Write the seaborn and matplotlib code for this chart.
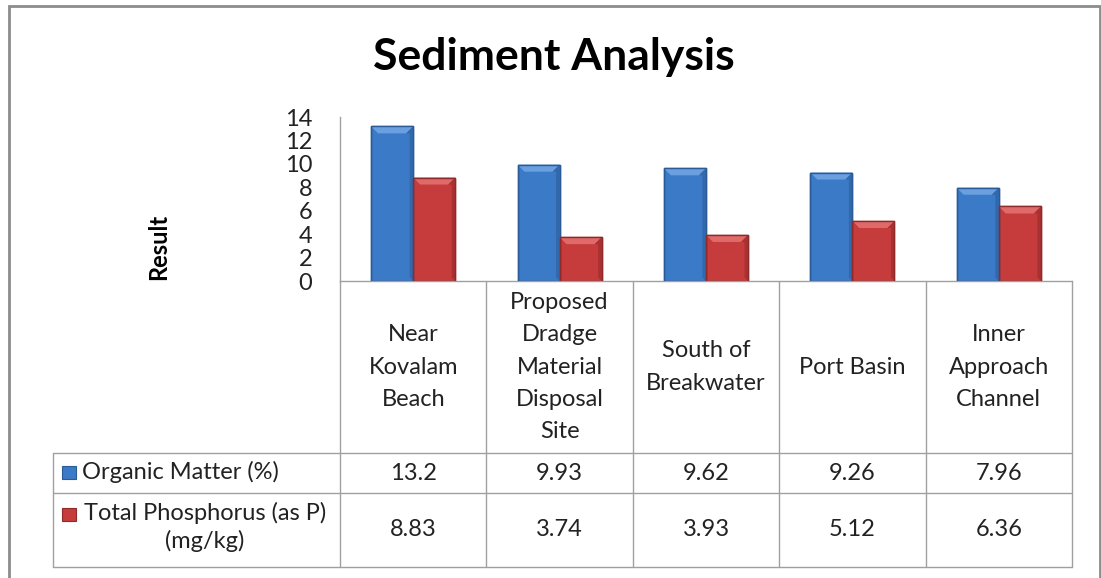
import matplotlib
matplotlib.use("Agg")
import matplotlib.pyplot as plt
import matplotlib.transforms as mtransforms
from matplotlib.patches import Rectangle, Polygon
import seaborn as sns
import pandas as pd

# ---- data ----
categories = ["Near\nKovalam\nBeach", "Proposed\nDradge\nMaterial\nDisposal\nSite",
              "South of\nBreakwater", "Port Basin", "Inner\nApproach\nChannel"]
series_names = ["Organic Matter (%)", "Total Phosphorus (as P)\n(mg/kg)"]
organic_matter = [13.2, 9.93, 9.62, 9.26, 7.96]
total_phosphorus = [8.83, 3.74, 3.93, 5.12, 6.36]
y_ticks = [0, 2, 4, 6, 8, 10, 12, 14]
title = "Sediment Analysis"
y_label = "Result"

colors = ["#3B7AC6", "#C63B3B"]
edges = ["#2A5B96", "#8F2A2A"]
bevel_top = ["#6A9FE0", "#E06A6A"]
bevel_side = ["#3268AC", "#AA3131"]

df = pd.DataFrame({
    "category": categories * 2,
    "series": [series_names[0]] * 5 + [series_names[1]] * 5,
    "value": organic_matter + total_phosphorus,
})

W, H = 1101, 578
sns.set_theme(style="white")
plt.rcParams["font.family"] = ["Lato", "DejaVu Sans"]
fig = plt.figure(figsize=(W / 100, H / 100), dpi=100)

def fx(x):
    return x / W

def fy(y):
    return 1 - y / H

ax_left, ax_right, ax_top, ax_bot = 340, 1072, 117, 281
ax = fig.add_axes([fx(ax_left), fy(ax_bot), fx(ax_right - ax_left), (ax_bot - ax_top) / H])

sns.barplot(data=df, x="category", y="value", hue="series", order=categories,
            hue_order=series_names, palette=colors, width=0.575, gap=0,
            legend=False, ax=ax, saturation=1)

ax.set_ylim(0, 14)
ax.set_xlim(-0.5, len(categories) - 0.5)

# bevel effect derived from each bar's geometry
px_x = (len(categories)) / (ax_right - ax_left)
px_y = 14 / (ax_bot - ax_top)
d = 7
for i, cont in enumerate(ax.containers):
    for p in cont.patches:
        p.set_edgecolor(edges[i])
        p.set_linewidth(1.0)
        x0, w, h = p.get_x(), p.get_width(), p.get_height()
        dx, dy = d * px_x, d * px_y
        ax.add_patch(Polygon([(x0, h), (x0 + w, h), (x0 + w - dx, h - dy), (x0 + dx, h - dy)],
                             closed=True, facecolor=bevel_top[i], edgecolor="none", zorder=3))
        ax.add_patch(Polygon([(x0 + w, h), (x0 + w, 0), (x0 + w - 0.5 * dx, 0.5 * dy),
                              (x0 + w - 0.5 * dx, h - dy), (x0 + w - dx, h - dy)],
                             closed=True, facecolor=bevel_side[i], edgecolor="none", zorder=3))
        ax.add_patch(Rectangle((x0, 0), w, h, fill=False, edgecolor=edges[i], lw=1.0, zorder=4))

ax.set_yticks(y_ticks)
ax.set_yticklabels([str(t) for t in y_ticks], fontsize=17, color="#222222")
ax.tick_params(axis="y", length=0, pad=20)
ax.tick_params(axis="x", length=0, labelbottom=False)
ax.set_xlabel("")
ax.set_ylabel(y_label, fontsize=17, fontweight="bold", color="black")
ax.yaxis.set_label_coords(-0.232, 0.21)
for s in ["top", "right"]:
    ax.spines[s].set_visible(False)
for s in ["left", "bottom"]:
    ax.spines[s].set_color("#A0A0A0")
    ax.spines[s].set_linewidth(1.0)

grid_c = "#A0A0A0"
# table geometry (pixels)
tbl_left, row1_top, row2_top, tbl_bot = 53, 453, 493, 567
blend = mtransforms.blended_transform_factory(ax.transData, fig.transFigure)

xt = list(range(len(categories)))
for b in [i - 0.5 for i in range(len(categories) + 1)]:
    ax.plot([b, b], [fy(ax_bot), fy(tbl_bot)], color=grid_c, lw=1.0,
            transform=blend, clip_on=False)
fig.add_artist(plt.Line2D([fx(tbl_left), fx(tbl_left)], [fy(row1_top), fy(tbl_bot)],
                          color=grid_c, lw=1.0))
for yy in [row1_top, row2_top, tbl_bot]:
    fig.add_artist(plt.Line2D([fx(tbl_left), fx(ax_right)], [fy(yy), fy(yy)],
                              color=grid_c, lw=1.0))

# header category labels
for i, c in enumerate(categories):
    ax.text(xt[i], fy((ax_bot + row1_top) / 2), c, transform=blend, ha="center",
            va="center", fontsize=17, color="#222222", linespacing=1.65)

# values rows
rows = [organic_matter, total_phosphorus]
row_centers = [(row1_top + row2_top) / 2, (row2_top + tbl_bot) / 2]
for r, vals in enumerate(rows):
    for i, v in enumerate(vals):
        ax.text(xt[i], fy(row_centers[r]), f"{v:g}", transform=blend, ha="center",
                va="center", fontsize=17, color="#222222")

# legend keys and row labels
key_y = [472, 514]
for r in range(2):
    fig.add_artist(Rectangle((fx(62), fy(key_y[r] + 7)), 14 / W, 13 / H,
                             facecolor=colors[r], edgecolor=edges[r], lw=0.8))
fig.text(fx(82), fy(key_y[0]), series_names[0], ha="left", va="center",
         fontsize=17, color="#222222")
fig.text(fx(205), fy(key_y[1] - 12), series_names[1], ha="center", va="top",
         fontsize=17, color="#222222", linespacing=1.3, multialignment="center")

# title
fig.text(fx(554), fy(57), title, ha="center", va="center", fontsize=32,
         fontweight="bold", color="black")

# outer chart border
fig.add_artist(Rectangle((fx(9), -0.05), fx(1100 - 9), fy(6) + 0.05, fill=False,
                         edgecolor="#8C8C8C", lw=2.0))

fig.savefig("out.png", dpi=100)
